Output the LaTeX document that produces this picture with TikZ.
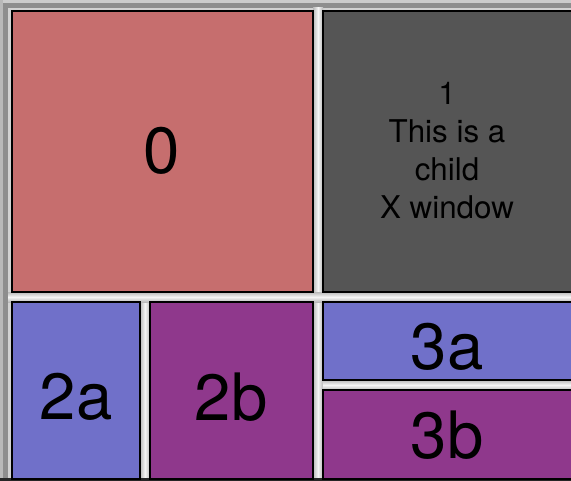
\documentclass[tikz,border=0pt]{standalone}
\usepackage{fontspec}
\setmainfont{TeX Gyre Heros}
\definecolor{pk}{HTML}{C66E6E}
\definecolor{dk}{HTML}{555555}
\definecolor{bl}{HTML}{7070C9}
\definecolor{pu}{HTML}{8F388C}
\definecolor{sash}{HTML}{D2D2D2}
\definecolor{frm}{HTML}{8E8E8E}
\begin{document}
\begin{tikzpicture}[x=0.75pt,y=-0.75pt,
  pane/.style={draw=black,line width=1.5pt},
  big/.style={font=\fontsize{49}{54}\selectfont,text=black},
  small/.style={font=\fontsize{23.5}{28.5}\selectfont,align=center,text=black}]
\useasboundingbox (0,0) rectangle (571,481);
% frame and sashes
\fill[sash] (0,0) rectangle (571,481);
\fill[frm] (0,0) rectangle (571,8);
\fill[frm] (0,0) rectangle (8,481);
\fill[gray!40] (0,0) rectangle (571,3);
\fill[gray!55] (0,0) rectangle (3,481);
% sash highlights
\shade[left color=gray!55,right color=gray!55,middle color=gray!8] (313,8) rectangle (323,481);
\shade[left color=gray!55,right color=gray!55,middle color=gray!8] (140,292) rectangle (150,481);
\shade[top color=gray!55,bottom color=gray!55,middle color=gray!8] (8,292) rectangle (571,302);
\shade[top color=gray!55,bottom color=gray!55,middle color=gray!8] (323,380) rectangle (571,390);
\fill[black!85] (0,478) rectangle (571,481);
% panes
\filldraw[pane,fill=pk] (12,11) rectangle (313,292);
\filldraw[pane,fill=dk] (323,11) rectangle (572,292);
\filldraw[pane,fill=bl] (12,302) rectangle (140,479);
\filldraw[pane,fill=pu] (150,302) rectangle (313,479);
\filldraw[pane,fill=bl] (323,302) rectangle (572,380);
\filldraw[pane,fill=pu] (323,390) rectangle (572,479);
% labels
\node[big] (l0) at (162,151) {0};
\node[small] (l1) at (447,151) {1\\This is a\\child\\X window};
\node[big] (l2a) at (76,397) {2a};
\node[big] (l2b) at (231,397) {2b};
\node[big] (l3a) at (447,347) {3a};
\node[big] (l3b) at (447,435) {3b};
\end{tikzpicture}
\end{document}
